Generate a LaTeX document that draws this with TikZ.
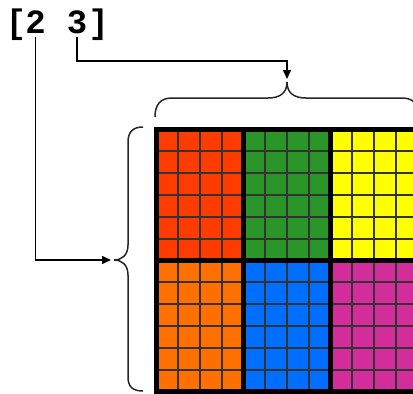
\documentclass[tikz,border=0pt]{standalone}
\usepackage{fontspec}
\newfontfamily\monofont{Liberation Mono}
\usetikzlibrary{arrows.meta}
\definecolor{cred}{RGB}{255,60,0}
\definecolor{cgreen}{RGB}{42,150,42}
\definecolor{cyellow}{RGB}{255,255,0}
\definecolor{corange}{RGB}{255,112,0}
\definecolor{cblue}{RGB}{0,110,255}
\definecolor{cmagenta}{RGB}{210,45,155}
\tikzset{
  glyph/.style={font=\monofont\bfseries\fontsize{34}{34}\selectfont, inner sep=4pt, outer sep=0pt, anchor=base},
  conn/.style={line width=1.5pt, black},
  arr/.style={conn, -{Triangle[length=9pt,width=8pt]}},
  bracepath/.style={line width=1.5pt, black!85},
  thin/.style={line width=1.8pt, black!80},
  thick/.style={line width=5pt, black},
}
\begin{document}
\begin{tikzpicture}[x=1pt,y=-1pt]
\useasboundingbox (0,0) rectangle (413,394);
\begin{scope}
\clip (0,0) rectangle (413,394);
% blocks
\def\xa{156.5}\def\xb{243.5}\def\xc{330.5}\def\xd{417.5}
\def\ya{129.5}\def\yb{260.5}\def\yc{391.5}
\fill[cred] (\xa,\ya) rectangle (\xb,\yb);
\fill[cgreen] (\xb,\ya) rectangle (\xc,\yb);
\fill[cyellow] (\xc,\ya) rectangle (\xd,\yb);
\fill[corange] (\xa,\yb) rectangle (\xb,\yc);
\fill[cblue] (\xb,\yb) rectangle (\xc,\yc);
\fill[cmagenta] (\xc,\yb) rectangle (\xd,\yc);
% thin cell lines
\foreach \i in {1,...,11} {
  \draw[thin] ({156.5+\i*21.75},\ya) -- ({156.5+\i*21.75},\yc);
}
\foreach \j in {1,...,11} {
  \draw[thin] (\xa,{129.5+\j*131/6}) -- (\xd,{129.5+\j*131/6});
}
% thick block borders
\draw[thick] (\xa,\ya) rectangle (\xd,\yc);
\draw[thick] (\xb,\ya) -- (\xb,\yc);
\draw[thick] (\xc,\ya) -- (\xc,\yc);
\draw[thick] (\xa,\yb) -- (\xd,\yb);
% top brace
\coordinate (ttip) at (287,82);
\draw[bracepath] (155,117) .. controls (155,104) and (161,98) .. (172,98) -- (268,98)
  .. controls (280,98) and (287,93) .. (ttip)
  .. controls (287,93) and (294,98) .. (306,98) -- (402,98)
  .. controls (413,98) and (419,104) .. (419,117);
% left brace
\coordinate (ltip) at (114,260);
\draw[bracepath] (143,127) .. controls (133,127) and (128,132) .. (128,142) -- (128,245)
  .. controls (128,255) and (122,260) .. (ltip)
  .. controls (122,260) and (128,265) .. (128,275) -- (128,377)
  .. controls (128,387) and (133,391) .. (143,391);
% text
\node[glyph] (lb) at (16,33) {[};
\node[glyph] (n2) at (35.5,33) {2};
\node[glyph] (n3) at (77,33) {3};
\node[glyph] (rb) at (98.5,33) {]};
% connectors
\draw[arr, shorten >=3pt] (n2.south) |- (ltip);
\draw[arr, shorten >=3pt] (n3.south) |- (287,61) -- (ttip);
\end{scope}
\end{tikzpicture}
\end{document}
